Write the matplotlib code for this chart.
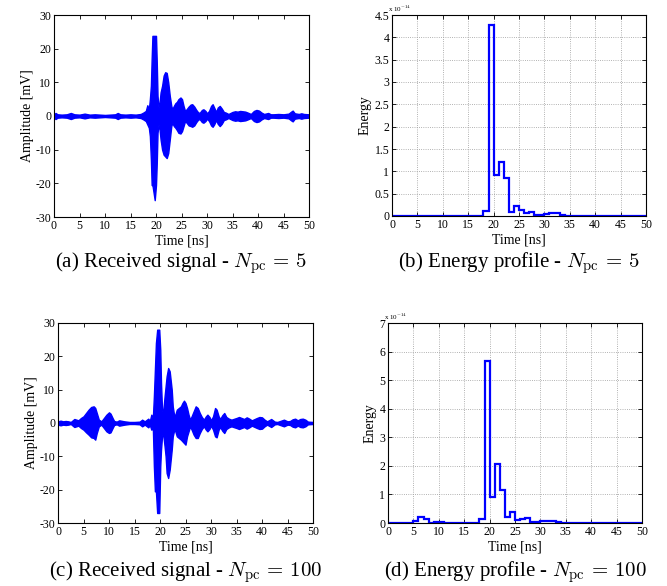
import numpy as np
import matplotlib
matplotlib.use("Agg")
from matplotlib import pyplot as plt
from matplotlib.ticker import FormatStrFormatter

plt.rcParams['font.family'] = ['Liberation Serif', 'DejaVu Serif']
plt.rcParams['mathtext.fontset'] = 'cm'
plt.rcParams['axes.unicode_minus'] = False

# (a) принятый сигнал, N_pc = 5 : огибающая (мВ)
t_a = [0, 0.3, 0.7, 1.5, 2.5, 3.3, 4, 5, 6, 7,
       8, 9, 10, 11, 12, 12.5, 13, 14, 15, 16,
       17, 17.5, 18, 18.3, 18.6, 18.8, 19.0, 19.15, 19.3, 19.75,
       20.0, 20.15, 20.3, 20.5, 20.7, 20.9, 21.2, 21.5, 21.8, 22.1,
       22.4, 22.7, 23.0, 23.2, 23.5, 23.8, 24.1, 24.4, 24.8, 25.1,
       25.4, 25.7, 26.0, 26.4, 26.8, 27.1, 27.5, 27.9, 28.3, 28.6,
       29.0, 29.3, 29.7, 30.0, 30.4, 30.8, 31.1, 31.4, 31.8, 32.1,
       32.5, 32.9, 33.3, 33.7, 34.2, 35, 35.5, 36, 36.5, 37,
       37.5, 38, 38.6, 39.2, 39.7, 40.2, 40.7, 41.2, 42, 42.5,
       43, 44, 45, 46, 46.5, 46.8, 47.2, 48, 48.5, 49,
       50]
up_a = [0.5, 0.9, 0.5, 0.4, 0.5, 0.9, 0.5, 0.4, 0.7, 0.4,
        0.5, 0.4, 0.3, 0.4, 0.5, 0.9, 0.5, 0.4, 0.5, 0.4,
        0.6, 1.0, 1.5, 3.2, 2.0, 5.0, 9.0, 17.0, 23.8, 23.8,
        23.8, 16.0, 6.0, 2.5, 4.0, 7.0, 9.0, 12.0, 13.0, 12.8,
        10.0, 6.0, 3.0, 2.0, 3.0, 3.8, 4.2, 5.0, 5.5, 5.0,
        3.0, 1.5, 2.0, 2.8, 3.4, 3.5, 2.8, 1.8, 1.0, 1.0,
        1.8, 2.0, 1.5, 0.8, 1.5, 3.0, 3.5, 2.5, 1.2, 2.5,
        3.0, 2.2, 1.2, 1.0, 0.6, 1.2, 1.4, 1.3, 1.5, 1.4,
        1.3, 1.0, 0.6, 1.5, 1.8, 1.6, 1.0, 0.6, 0.9, 0.5,
        0.5, 0.6, 0.5, 0.7, 1.3, 1.6, 0.8, 0.6, 0.8, 0.6,
        0.5]
lo_a = [-0.5, -0.9, -0.5, -0.4, -0.5, -0.9, -0.5, -0.4, -0.7, -0.4,
        -0.5, -0.4, -0.3, -0.4, -0.5, -0.9, -0.5, -0.4, -0.5, -0.4,
        -0.6, -1.0, -1.5, -2.5, -3.5, -6.0, -13.0, -20.5, -20.5, -25.0,
        -20.5, -14.0, -5.0, -2.5, -4.0, -7.0, -10.0, -11.5, -12.0, -12.5,
        -11.0, -7.0, -3.0, -2.0, -3.0, -3.5, -4.2, -5.0, -5.2, -4.5,
        -3.0, -1.5, -2.0, -2.8, -3.0, -3.2, -2.8, -1.8, -1.0, -1.0,
        -1.8, -2.0, -1.5, -0.8, -1.5, -2.8, -3.2, -2.5, -1.2, -2.3,
        -3.0, -2.3, -1.2, -1.0, -0.6, -1.2, -1.4, -1.3, -1.5, -1.4,
        -1.3, -1.0, -0.6, -1.5, -1.8, -1.6, -1.0, -0.6, -0.9, -0.5,
        -0.5, -0.6, -0.5, -0.7, -1.3, -1.6, -0.8, -0.6, -0.8, -0.6,
        -0.5]

# (c) принятый сигнал, N_pc = 100
t_c = [0, 0.5, 1, 1.5, 2, 2.5, 3.2, 4, 4.5, 5,
       5.5, 6, 6.5, 7, 7.3, 7.6, 8, 8.5, 9, 9.5,
       10, 10.3, 10.7, 11, 11.5, 12, 13, 14, 15, 16,
       16.5, 17, 17.7, 18, 18.3, 18.6, 18.8, 19.0, 19.2, 19.45,
       19.85, 20.05, 20.2, 20.4, 20.6, 20.9, 21.1, 21.3, 21.6, 21.9,
       22.3, 22.5, 22.8, 23.0, 23.3, 23.7, 24.1, 24.4, 24.7, 25.0,
       25.3, 25.6, 25.9, 26.2, 26.6, 27.0, 27.4, 27.8, 28.2, 28.6,
       29.0, 29.3, 29.7, 30.0, 30.4, 30.8, 31.1, 31.5, 31.8, 32.2,
       32.6, 33.0, 33.5, 34.0, 35.0, 35.5, 36.0, 36.5, 37.0, 37.5,
       38.0, 39.0, 39.5, 40.0, 40.5, 41.0, 41.8, 42.5, 43.0, 44.3,
       45.0, 45.5, 46.0, 46.5, 47.0, 47.5, 48.0, 48.5, 49.0, 50.0]
up_c = [0.5, 0.7, 0.5, 0.6, 0.5, 0.3, 1.2, 0.8, 1.5, 2.0,
        3.0, 4.0, 4.8, 5.0, 4.5, 3.0, 1.0, 0.5, 1.5, 2.5,
        3.2, 2.8, 1.5, 0.6, 0.4, 0.8, 0.5, 0.3, 0.3, 0.4,
        1.0, 0.5, 1.3, 0.6, 2.5, 1.5, 8.0, 16.0, 24.0, 28.0,
        28.0, 22.0, 12.0, 4.0, 3.0, 8.0, 11.0, 14.0, 16.5, 15.5,
        10.0, 5.0, 2.0, 2.5, 4.0, 4.5, 5.0, 6.0, 6.7, 6.0,
        4.5, 2.5, 1.0, 2.0, 3.5, 5.0, 4.5, 3.0, 1.8, 1.0,
        2.0, 2.5, 1.8, 0.8, 2.0, 4.5, 4.0, 2.0, 1.2, 2.3,
        3.0, 1.8, 1.3, 1.0, 1.5, 1.8, 1.5, 1.2, 1.7, 1.3,
        0.8, 1.5, 1.8, 1.7, 1.0, 0.5, 1.2, 0.4, 0.3, 1.0,
        0.5, 0.6, 1.1, 1.3, 0.8, 1.2, 1.3, 1.0, 0.4, 0.3]
lo_c = [-0.5, -0.7, -0.5, -0.6, -0.5, -0.3, -1.2, -0.8, -1.5, -2.0,
        -2.8, -3.5, -4.3, -4.5, -5.0, -3.0, -1.0, -0.5, -1.5, -2.5,
        -3.0, -2.8, -1.5, -0.6, -0.4, -0.8, -0.5, -0.3, -0.3, -0.4,
        -1.0, -0.5, -1.3, -0.6, -2.0, -1.5, -13.0, -20.5, -20.5, -27.0,
        -27.0, -13.0, -8.0, -4.0, -3.0, -7.0, -10.0, -15.0, -16.5, -14.0,
        -8.0, -4.0, -2.0, -2.5, -4.0, -4.5, -5.0, -5.5, -6.0, -6.5,
        -4.0, -2.5, -1.0, -2.0, -3.5, -4.5, -4.5, -3.0, -1.8, -1.0,
        -2.0, -2.5, -1.8, -0.8, -2.0, -4.0, -4.3, -2.0, -1.2, -2.3,
        -3.0, -1.8, -1.3, -1.0, -1.5, -1.8, -1.5, -1.2, -1.7, -1.3,
        -0.8, -1.5, -1.8, -1.7, -1.0, -0.5, -1.2, -0.4, -0.3, -1.0,
        -0.5, -0.6, -1.1, -1.3, -0.8, -1.2, -1.3, -1.0, -0.4, -0.3]

# энергетические профили (x 1e-14), интервалы по 1 нс от 0 до 50
energy_b = [0.003, 0.003, 0.003, 0.003, 0.003, 0.003, 0.003, 0.003, 0.003, 0.003,
            0.003, 0.003, 0.003, 0.003, 0.003, 0.003, 0.004, 0.010, 0.11, 4.28,
            0.92, 1.22, 0.84, 0.10, 0.22, 0.13, 0.06, 0.09, 0.02, 0.025,
            0.04, 0.06, 0.06, 0.02, 0.008, 0.008, 0.008, 0.006, 0.006, 0.005,
            0.003, 0.003, 0.003, 0.003, 0.003, 0.003, 0.003, 0.003, 0.003, 0.003]
energy_d = [0.005, 0.005, 0.005, 0.005, 0.01, 0.07, 0.20, 0.14, 0.01, 0.05,
            0.05, 0.01, 0.01, 0.01, 0.01, 0.01, 0.01, 0.01, 0.15, 5.67,
            0.90, 2.06, 1.17, 0.20, 0.37, 0.10, 0.14, 0.16, 0.03, 0.05,
            0.08, 0.08, 0.06, 0.03, 0.01, 0.01, 0.01, 0.01, 0.01, 0.01,
            0.005, 0.005, 0.005, 0.005, 0.005, 0.005, 0.005, 0.005, 0.005, 0.005]
bin_edges = np.arange(0, 51, 1)

captions = [r'(a) Received signal - $N_{\rm pc}\,{=}\,5$',
            r'(b) Energy profile - $N_{\rm pc}\,{=}\,5$',
            r'(c) Received signal - $N_{\rm pc}\,{=}\,100$',
            r'(d) Energy profile - $N_{\rm pc}\,{=}\,100$']

BLUE = '#0000ff'
fig = plt.figure(figsize=(6.67, 5.86), dpi=100)

# позиции осей в пикселях (left, right, top, bottom)
boxes = [(54, 309, 15, 217), (392, 646, 15, 216),
         (58, 313, 323, 523), (388, 642, 323, 523)]
W, H = 667, 586
axes = []
for l, r, t, b in boxes:
    axes.append(fig.add_axes([l / W, 1 - b / H, (r - l) / W, (b - t) / H]))


def style(ax):
    ax.tick_params(direction='in', top=True, right=True, labelsize=8.5,
                   length=3, width=0.6, pad=2)
    for s in ax.spines.values():
        s.set_linewidth(0.8)
    ax.set_xlim(0, 50)
    ax.set_xticks(np.arange(0, 51, 5))
    ax.set_xlabel('Time [ns]', fontsize=10, labelpad=2)


# сигналы
for ax, t, up, lo in [(axes[0], t_a, up_a, lo_a), (axes[2], t_c, up_c, lo_c)]:
    ax.fill_between(t, lo, up, color=BLUE, linewidth=1.0, edgecolor=BLUE)
    ax.plot(t, np.zeros(len(t)), color=BLUE, linewidth=1.5)
    style(ax)
    ax.set_ylim(-30, 30)
    ax.set_yticks(np.arange(-30, 31, 10))
    ax.set_ylabel('Amplitude [mV]', fontsize=10, labelpad=1)

# энергия
for ax, e, ymax, step in [(axes[1], energy_b, 4.5, 0.5), (axes[3], energy_d, 7, 1)]:
    ax.stairs(e, bin_edges, baseline=None, color=BLUE, linewidth=1.6)
    style(ax)
    ax.set_ylim(0, ymax)
    ax.set_yticks(np.arange(0, ymax + 0.01, step))
    ax.yaxis.set_major_formatter(FormatStrFormatter('%g'))
    ax.grid(True, linestyle=':', color='#999999', linewidth=0.6)
    ax.set_axisbelow(True)
    ax.set_ylabel('Energy', fontsize=10, labelpad=2)
    ax.text(-0.015, 1.005, r'x 10$^{-14}$', transform=ax.transAxes,
            fontsize=5, ha='left', va='bottom')

# подписи панелей
for ax, cap, y in zip(axes, captions, [263, 263, 572, 572]):
    pos = ax.get_position()
    fig.text(pos.x0 + pos.width / 2, 1 - y / H, cap, fontsize=15,
             ha='center', va='center')

fig.savefig('out.png', dpi=100)
